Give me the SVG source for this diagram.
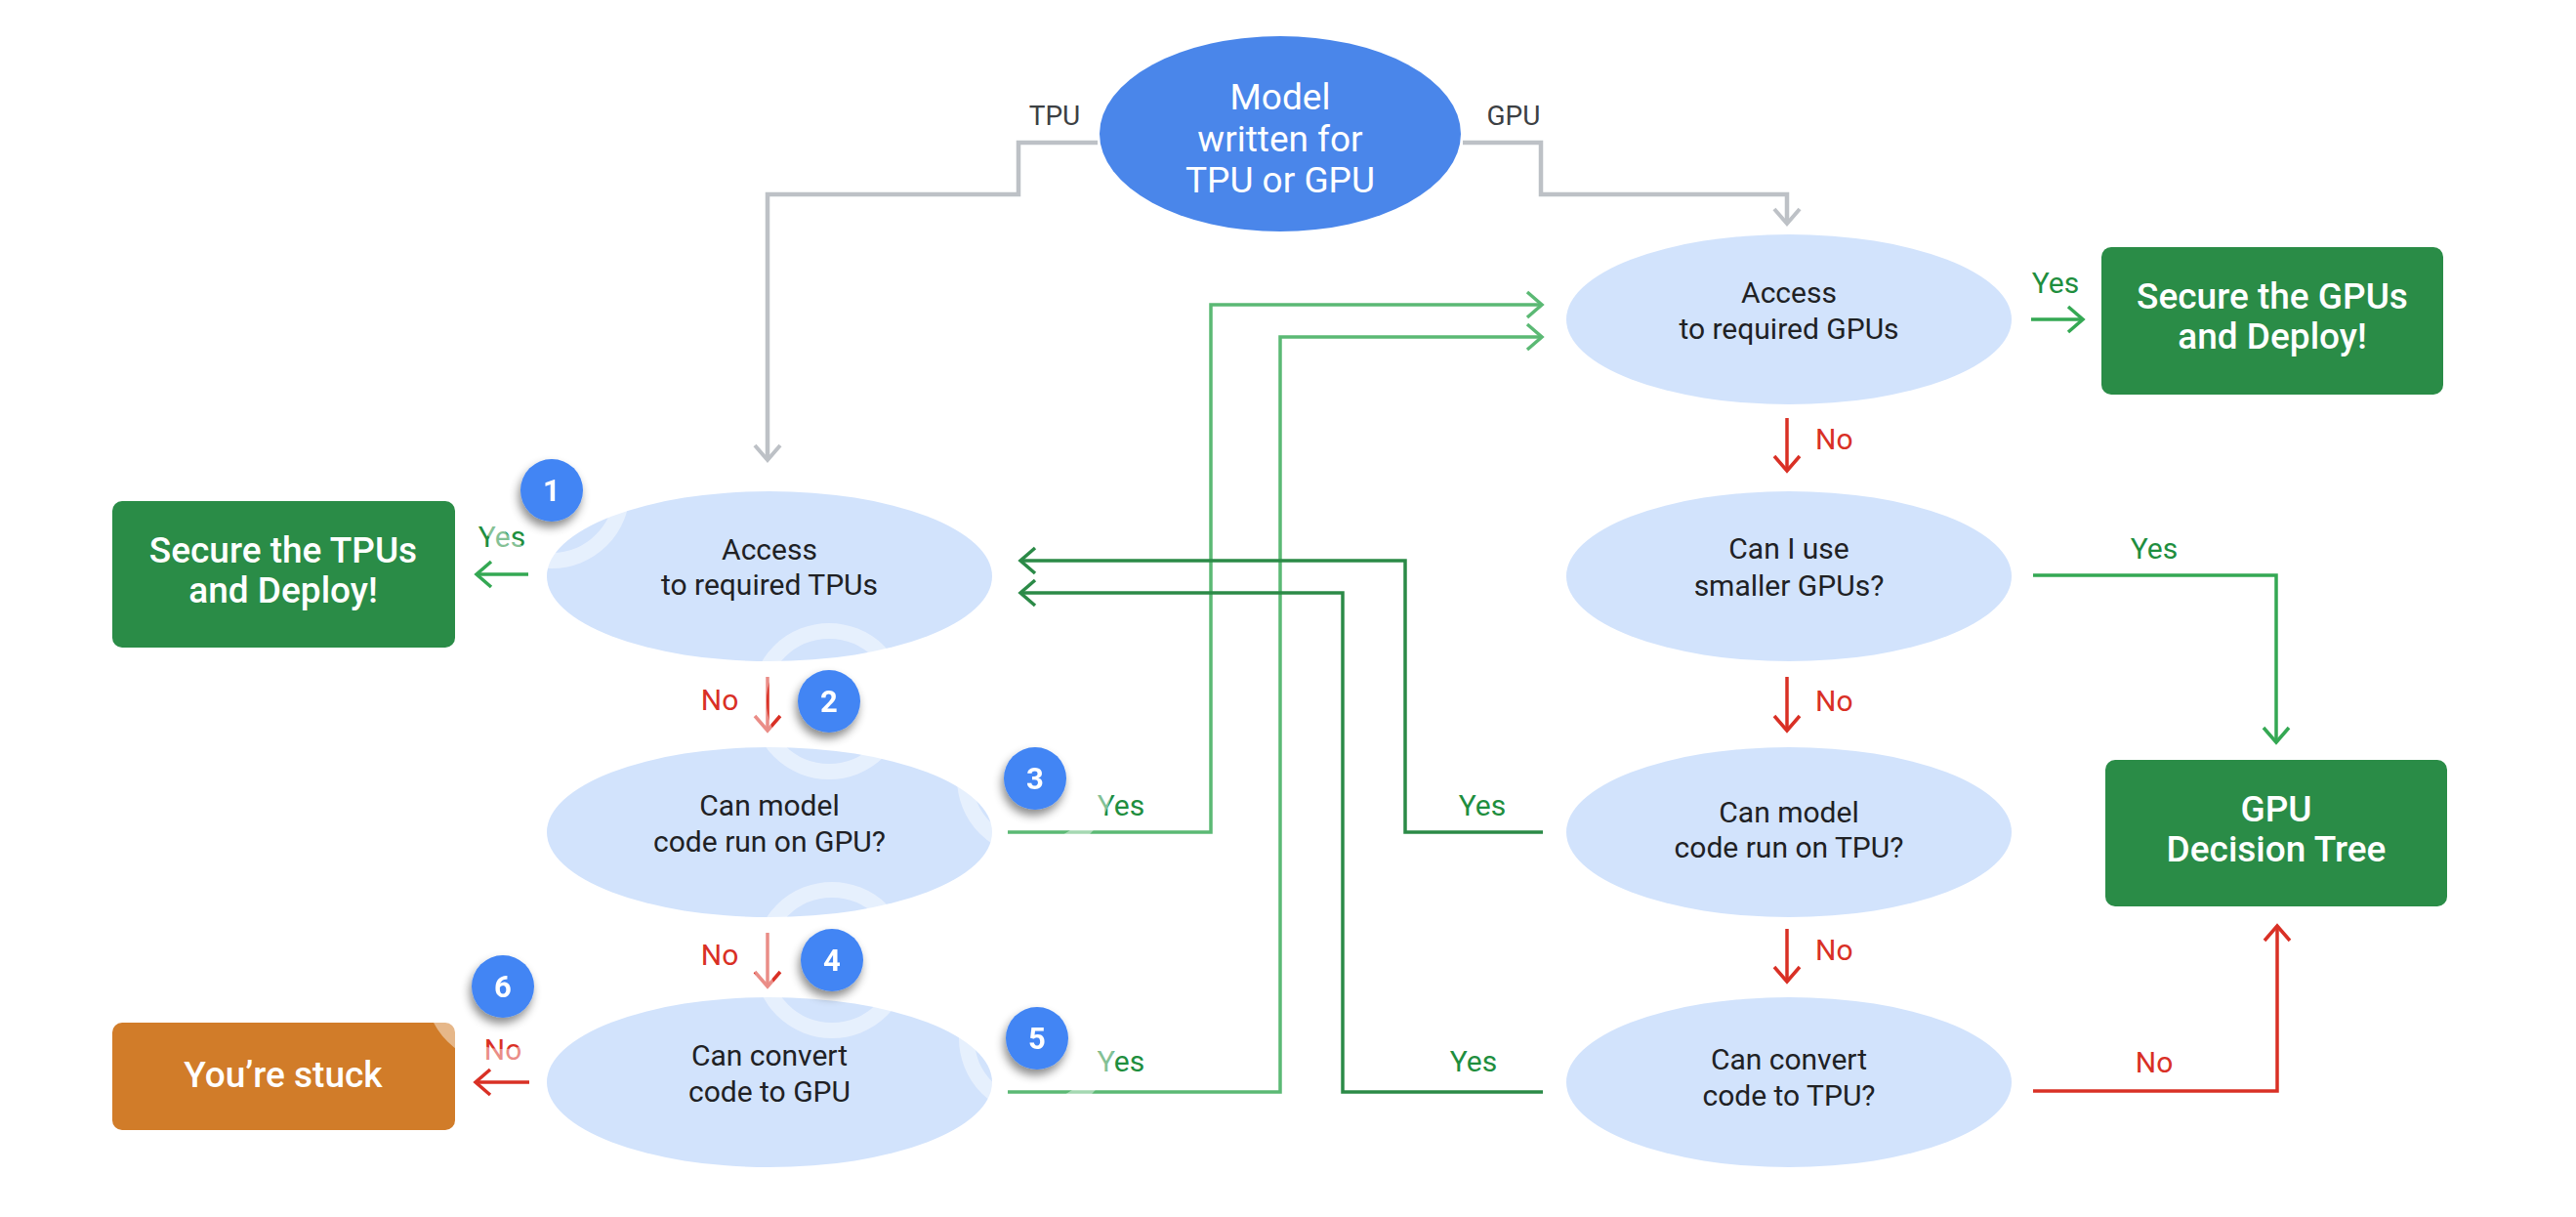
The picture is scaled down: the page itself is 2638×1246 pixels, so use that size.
<svg xmlns="http://www.w3.org/2000/svg" width="2638" height="1246" viewBox="0 0 2638 1246">
<defs>
<style>
.q{fill:#d2e3fc}
.qt{font-family:Roboto,"Liberation Sans",sans-serif;font-size:30px;fill:#202124;text-anchor:middle}
.box{fill:#2a8c47}
.bt{font-family:Roboto,"Liberation Sans",sans-serif;font-weight:500;font-size:37px;fill:#fff;text-anchor:middle}
.c{fill:none;stroke-width:3.5;stroke-linejoin:miter}
.gray{stroke:#bdc1c6;stroke-width:4.5}
.red{stroke:#d93025}
.lg{stroke:#5bb974}
.mg{stroke:#34a853}
.dg{stroke:#2b8a47}
.lbl{font-family:Roboto,"Liberation Sans",sans-serif;font-size:30px}
.yes{fill:#1e8e3e}
.no{fill:#d93025}
.ring{fill:none;stroke:#fff;stroke-opacity:0.45;stroke-width:16}
.badge{fill:#4285f4}
.bn{font-family:Roboto,"Liberation Sans",sans-serif;font-weight:700;font-size:31px;fill:#fff;text-anchor:middle}
</style>
<marker id="aGray" markerUnits="userSpaceOnUse" markerWidth="22" markerHeight="32" viewBox="0 0 22 32" refX="18" refY="16" orient="auto"><path d="M3,3 L18,16 L3,29" fill="none" stroke="#bdc1c6" stroke-width="4"/></marker>
<marker id="aRed" markerUnits="userSpaceOnUse" markerWidth="22" markerHeight="32" viewBox="0 0 22 32" refX="18" refY="16" orient="auto"><path d="M3,3 L18,16 L3,29" fill="none" stroke="#d93025" stroke-width="3.5"/></marker>
<marker id="aLg" markerUnits="userSpaceOnUse" markerWidth="22" markerHeight="32" viewBox="0 0 22 32" refX="18" refY="16" orient="auto"><path d="M3,3 L18,16 L3,29" fill="none" stroke="#5bb974" stroke-width="3.5"/></marker>
<marker id="aMg" markerUnits="userSpaceOnUse" markerWidth="22" markerHeight="32" viewBox="0 0 22 32" refX="18" refY="16" orient="auto"><path d="M3,3 L18,16 L3,29" fill="none" stroke="#34a853" stroke-width="3.5"/></marker>
<marker id="aDg" markerUnits="userSpaceOnUse" markerWidth="22" markerHeight="32" viewBox="0 0 22 32" refX="18" refY="16" orient="auto"><path d="M3,3 L18,16 L3,29" fill="none" stroke="#2b8a47" stroke-width="3.5"/></marker>
<filter id="sh" x="-50%" y="-50%" width="200%" height="200%"><feDropShadow dx="-2" dy="6" stdDeviation="5" flood-color="#000" flood-opacity="0.45"/></filter>
</defs>
<rect width="2638" height="1246" fill="#fff"/>

<g id="start">
<ellipse cx="1311" cy="137" rx="185" ry="100" fill="#4a86ea"/>
<text font-family="Roboto,'Liberation Sans',sans-serif" font-size="37" fill="#fff" text-anchor="middle"><tspan x="1311" y="112">Model</tspan><tspan x="1311" y="155">written for</tspan><tspan x="1311" y="197">TPU or GPU</tspan></text>
</g>

<g id="tpu-access"><ellipse class="q" cx="788" cy="590" rx="228" ry="87"/><text class="qt"><tspan x="788" y="573">Access</tspan><tspan x="788" y="609">to required TPUs</tspan></text></g>
<g id="tpu-run-gpu"><ellipse class="q" cx="788" cy="852" rx="228" ry="87"/><text class="qt"><tspan x="788" y="835">Can model</tspan><tspan x="788" y="872">code run on GPU?</tspan></text></g>
<g id="tpu-convert-gpu"><ellipse class="q" cx="788" cy="1108" rx="228" ry="87"/><text class="qt"><tspan x="788" y="1091">Can convert</tspan><tspan x="788" y="1128">code to GPU</tspan></text></g>

<g id="gpu-access"><ellipse class="q" cx="1832" cy="327" rx="228" ry="87"/><text class="qt"><tspan x="1832" y="310">Access</tspan><tspan x="1832" y="347">to required GPUs</tspan></text></g>
<g id="gpu-smaller"><ellipse class="q" cx="1832" cy="590" rx="228" ry="87"/><text class="qt"><tspan x="1832" y="572">Can I use</tspan><tspan x="1832" y="610">smaller GPUs?</tspan></text></g>
<g id="gpu-run-tpu"><ellipse class="q" cx="1832" cy="852" rx="228" ry="87"/><text class="qt"><tspan x="1832" y="842">Can model</tspan><tspan x="1832" y="878">code run on TPU?</tspan></text></g>
<g id="gpu-convert-tpu"><ellipse class="q" cx="1832" cy="1108" rx="228" ry="87"/><text class="qt"><tspan x="1832" y="1095">Can convert</tspan><tspan x="1832" y="1132">code to TPU?</tspan></text></g>

<g id="secure-tpus"><rect class="box" x="115" y="513" width="351" height="150" rx="10"/><text class="bt"><tspan x="290" y="576">Secure the TPUs</tspan><tspan x="290" y="617">and Deploy!</tspan></text></g>
<g id="secure-gpus"><rect class="box" x="2152" y="253" width="350" height="151" rx="10"/><text class="bt"><tspan x="2327" y="316">Secure the GPUs</tspan><tspan x="2327" y="357">and Deploy!</tspan></text></g>
<g id="gpu-tree"><rect class="box" x="2156" y="778" width="350" height="150" rx="10"/><text class="bt"><tspan x="2331" y="841">GPU</tspan><tspan x="2331" y="882">Decision Tree</tspan></text></g>
<g id="stuck"><rect x="115" y="1047" width="351" height="110" rx="10" fill="#d17c29"/><text class="bt" x="290" y="1113" font-size="35">You’re stuck</text></g>

<g id="connectors">
<path class="c gray" d="M1124,146 H1043 V199 H786 V471" marker-end="url(#aGray)"/>
<path class="c gray" d="M1498,146 H1578 V199 H1830 V229" marker-end="url(#aGray)"/>
<path class="c mg" d="M541,588 H488" marker-end="url(#aMg)"/>
<path class="c red" d="M786,693 V748" marker-end="url(#aRed)"/>
<path class="c red" d="M786,955 V1010" marker-end="url(#aRed)"/>
<path class="c red" d="M542,1108 H487" marker-end="url(#aRed)"/>
<path class="c lg" d="M1032,852 H1240 V312 H1579" marker-end="url(#aLg)"/>
<path class="c lg" d="M1032,1118 H1311 V345 H1579" marker-end="url(#aLg)"/>
<path class="c dg" d="M1580,852 H1439 V574 H1045" marker-end="url(#aDg)"/>
<path class="c dg" d="M1580,1118 H1375 V607 H1045" marker-end="url(#aDg)"/>
<path class="c mg" d="M2080,327 H2133" marker-end="url(#aMg)"/>
<path class="c red" d="M1830,428 V482" marker-end="url(#aRed)"/>
<path class="c mg" d="M2082,589 H2331 V760" marker-end="url(#aMg)"/>
<path class="c red" d="M1830,693 V748" marker-end="url(#aRed)"/>
<path class="c red" d="M1830,951 V1005" marker-end="url(#aRed)"/>
<path class="c red" d="M2082,1117 H2332 V948" marker-end="url(#aRed)"/>
</g>

<g id="labels" class="lbl">
<text x="1080" y="128" font-size="28" fill="#3c4043" text-anchor="middle">TPU</text>
<text x="1550" y="128" font-size="28" fill="#3c4043" text-anchor="middle">GPU</text>
<text class="yes" x="514" y="560" text-anchor="middle">Yes</text>
<text class="no" x="737" y="727" text-anchor="middle">No</text>
<text class="no" x="737" y="988" text-anchor="middle">No</text>
<text class="no" x="515" y="1085" text-anchor="middle">No</text>
<text class="yes" x="1148" y="835" text-anchor="middle">Yes</text>
<text class="yes" x="1148" y="1097" text-anchor="middle">Yes</text>
<text class="yes" x="1518" y="835" text-anchor="middle">Yes</text>
<text class="yes" x="1509" y="1097" text-anchor="middle">Yes</text>
<text class="yes" x="2105" y="300" text-anchor="middle">Yes</text>
<text class="no" x="1859" y="460">No</text>
<text class="yes" x="2206" y="572" text-anchor="middle">Yes</text>
<text class="no" x="1859" y="728">No</text>
<text class="no" x="1859" y="983">No</text>
<text class="no" x="2206" y="1098" text-anchor="middle">No</text>
</g>

<g id="rings">
<circle class="ring" cx="565" cy="502" r="72"/>
<circle class="ring" cx="849" cy="718" r="72"/>
<circle class="ring" cx="1060" cy="797" r="72"/>
<circle class="ring" cx="852" cy="983" r="72"/>
<circle class="ring" cx="1062" cy="1063" r="72"/>
<circle class="ring" cx="515" cy="1010" r="72"/>
</g>

<g id="badge1" filter="url(#sh)"><circle class="badge" cx="565" cy="502" r="32"/><text class="bn" x="565" y="513">1</text></g>
<g id="badge2" filter="url(#sh)"><circle class="badge" cx="849" cy="718" r="32"/><text class="bn" x="849" y="729">2</text></g>
<g id="badge3" filter="url(#sh)"><circle class="badge" cx="1060" cy="797" r="32"/><text class="bn" x="1060" y="808">3</text></g>
<g id="badge4" filter="url(#sh)"><circle class="badge" cx="852" cy="983" r="32"/><text class="bn" x="852" y="994">4</text></g>
<g id="badge5" filter="url(#sh)"><circle class="badge" cx="1062" cy="1063" r="32"/><text class="bn" x="1062" y="1074">5</text></g>
<g id="badge6" filter="url(#sh)"><circle class="badge" cx="515" cy="1010" r="32"/><text class="bn" x="515" y="1021">6</text></g>
</svg>
